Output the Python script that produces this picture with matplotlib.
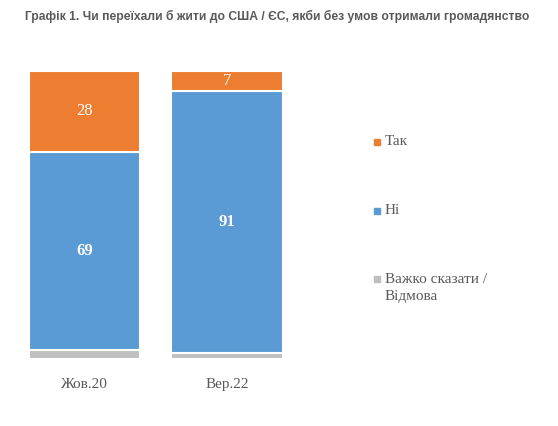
import matplotlib.pyplot as plt
from matplotlib.patches import Rectangle
import numpy as np

# data
categories = ['Жов.20', 'Вер.22']
hard_to_say = [3, 2]
no = [69, 91]
yes = [28, 7]
series_names = ['Так', 'Ні', 'Важко сказати /\nВідмова']

orange = '#ED7D31'
blue = '#5B9BD5'
grey = '#BFBFBF'
text_grey = '#595959'
serif = ['Liberation Serif', 'DejaVu Serif']

fig = plt.figure(figsize=(5.58, 4.26), dpi=100)
W, H = 558, 426
# axes so that bars land where they are in the picture
ax = fig.add_axes([13.25 / W, 67 / H, 285 / W, 288 / H])

x = np.arange(len(categories))
bw = 0.78
b1 = ax.bar(x, hard_to_say, bw, color=grey, edgecolor='white', linewidth=1.5)
b2 = ax.bar(x, no, bw, bottom=hard_to_say, color=blue, edgecolor='white', linewidth=1.5)
bottom_yes = np.array(hard_to_say) + np.array(no)
b3 = ax.bar(x, yes, bw, bottom=bottom_yes, color=orange, edgecolor='white', linewidth=1.5)

ax.set_xlim(-0.5, 1.5)
ax.set_ylim(0, 100)
ax.set_yticks([])
ax.set_xticks(x)
ax.set_xticklabels(categories, fontfamily=serif, fontsize=11, color=text_grey)
ax.tick_params(axis='x', length=0, pad=14)
for s in ax.spines.values():
    s.set_visible(False)

# value labels
for i in range(len(categories)):
    ax.text(x[i], hard_to_say[i] + no[i] / 2, str(no[i]), ha='center', va='center',
            color='white', fontsize=12, fontweight='bold', fontfamily=serif)
    ax.text(x[i], bottom_yes[i] + yes[i] / 2, str(yes[i]), ha='center', va='center',
            color='white', fontsize=12, fontfamily=serif)

fig.text(25 / W, 1 - 16 / H,
         'Графік 1. Чи переїхали б жити до США / ЄС, якби без умов отримали громадянство',
         fontsize=8.7, fontweight='bold', color=text_grey, fontfamily='Liberation Sans',
         va='center', ha='left')

# legend drawn by hand to keep the wide spacing
legend_rows = [(142, orange, series_names[0]), (211, blue, series_names[1]),
               (288, grey, series_names[2])]
for y_px, col, name in legend_rows:
    top_line = y_px if '\n' not in name else y_px - 9
    fig.patches.append(Rectangle((374 / W, 1 - (top_line + 3) / H), 6 / W, 6 / H,
                                 transform=fig.transFigure, color=col, figure=fig))
    fig.text(385 / W, 1 - y_px / H, name, fontsize=11, color=text_grey,
             fontfamily=serif, va='center', ha='left', linespacing=1.45)

fig.savefig('out.png', dpi=100)
